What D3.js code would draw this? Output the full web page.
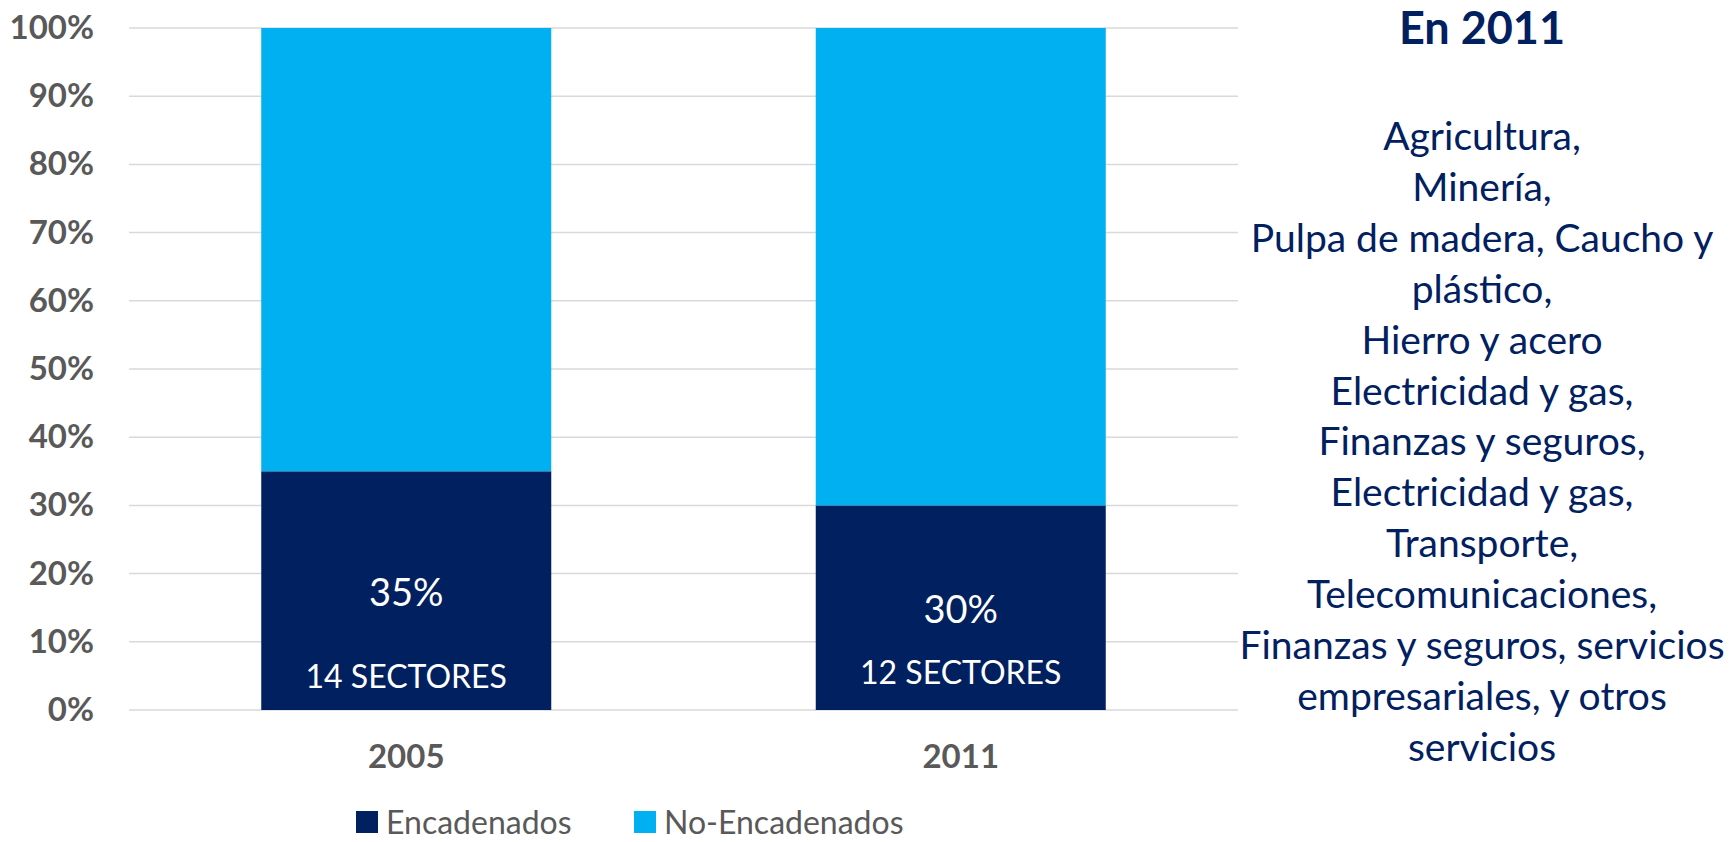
<!DOCTYPE html>
<html>
<head>
<meta charset="utf-8">
<script src="https://cdn.jsdelivr.net/npm/d3@7"></script>
<style>
  body { margin: 0; background: #fff; }
  svg { display: block; font-family: Lato, "Open Sans", sans-serif; }
</style>
</head>
<body>
<div id="chart"></div>
<script>
// Data
const categories = ["2005", "2011"];
const encadenados = [35, 30];
const noEncadenados = [65, 70];
const sectorLabels = ["14 SECTORES", "12 SECTORES"];
const yTicks = [0, 10, 20, 30, 40, 50, 60, 70, 80, 90, 100];
const seriesNames = ["Encadenados", "No-Encadenados"];
const noteTitle = "En 2011";
const noteLines = [
    "Agricultura,",
    "Minería,",
    "Pulpa de madera, Caucho y",
    "plástico,",
    "Hierro y acero",
    "Electricidad y gas,",
    "Finanzas y seguros,",
    "Electricidad y gas,",
    "Transporte,",
    "Telecomunicaciones,",
    "Finanzas y seguros, servicios",
    "empresariales, y otros",
    "servicios"
];

// Chart setup
const W = 1731, H = 842;
const margin = { top: 28, right: 493, bottom: 132, left: 129 },
    width = W - margin.left - margin.right,
    height = H - margin.top - margin.bottom;

const colors = ["#002060", "#00B0F0"];
const axisGray = "#595959";

const svg = d3.select("#chart")
    .append("svg")
    .attr("width", W)
    .attr("height", H);

const g = svg.append("g")
    .attr("transform", `translate(${margin.left},${margin.top})`);

const x = d3.scaleBand()
    .domain(categories)
    .range([0, width])
    .paddingInner(0.477)
    .paddingOuter(0.2385);

const y = d3.scaleLinear()
    .domain([0, 100])
    .range([height, 0]);

// Gridlines
g.selectAll(".grid")
    .data(yTicks)
    .enter()
    .append("line")
    .attr("x1", 0)
    .attr("x2", width)
    .attr("y1", d => y(d))
    .attr("y2", d => y(d))
    .attr("stroke", "#d9d9d9")
    .attr("stroke-width", 1.5);

// Y axis
const yAxis = g.append("g")
    .call(d3.axisLeft(y).tickValues(yTicks).tickFormat(d => d + "%").tickSize(0).tickPadding(35));
yAxis.select(".domain").remove();
yAxis.selectAll("text")
    .attr("fill", axisGray)
    .style("font-size", "33px")
    .style("font-weight", "bold")
    .style("font-family", "Lato, sans-serif");

// X axis
const xAxis = g.append("g")
    .attr("transform", `translate(0,${height})`)
    .call(d3.axisBottom(x).tickSize(0).tickPadding(35));
xAxis.select(".domain").remove();
xAxis.selectAll("text")
    .attr("fill", axisGray)
    .style("font-size", "33px")
    .style("font-weight", "bold")
    .style("font-family", "Lato, sans-serif");

// Stacked bars
const rows = categories.map((c, i) => ({ cat: c, Encadenados: encadenados[i], "No-Encadenados": noEncadenados[i] }));
const stacked = d3.stack().keys(seriesNames)(rows);

g.selectAll(".series")
    .data(stacked)
    .enter()
    .append("g")
    .attr("fill", (d, i) => colors[i])
    .selectAll("rect")
    .data(d => d)
    .enter()
    .append("rect")
    .attr("x", d => x(d.data.cat))
    .attr("y", d => y(d[1]))
    .attr("width", x.bandwidth())
    .attr("height", d => y(d[0]) - y(d[1]));

// Labels inside dark segments
g.selectAll(".pct")
    .data(categories)
    .enter()
    .append("text")
    .attr("x", d => x(d) + x.bandwidth() / 2)
    .attr("y", (d, i) => y(encadenados[i] / 2))
    .attr("text-anchor", "middle")
    .attr("dominant-baseline", "central")
    .attr("fill", "#fff")
    .style("font-size", "38px")
    .text((d, i) => encadenados[i] + "%");

g.selectAll(".sect")
    .data(categories)
    .enter()
    .append("text")
    .attr("x", d => x(d) + x.bandwidth() / 2)
    .attr("y", (d, i) => y(5) - (i === 0 ? 0 : 4))
    .attr("text-anchor", "middle")
    .attr("dominant-baseline", "central")
    .attr("fill", "#fff")
    .style("font-size", "32px")
    .text((d, i) => sectorLabels[i]);

// Legend
const legend = svg.append("g").attr("transform", "translate(356,819)");
const legendX = [0, 278];
seriesNames.forEach((name, i) => {
    legend.append("rect")
        .attr("x", legendX[i])
        .attr("y", -8)
        .attr("width", 22)
        .attr("height", 22)
        .attr("fill", colors[i]);
    legend.append("text")
        .attr("x", legendX[i] + 30)
        .attr("y", 2)
        .attr("dominant-baseline", "central")
        .attr("fill", axisGray)
        .style("font-size", "32px")
        .text(name);
});

// Side note
const noteX = 1482;
svg.append("text")
    .attr("x", noteX)
    .attr("y", 44)
    .attr("text-anchor", "middle")
    .attr("fill", "#002060")
    .style("font-size", "45px")
    .style("font-weight", "bold")
    .text(noteTitle);

svg.append("g")
    .selectAll("text")
    .data(noteLines)
    .enter()
    .append("text")
    .attr("x", noteX)
    .attr("y", (d, i) => 135 + i * 50.9)
    .attr("text-anchor", "middle")
    .attr("dominant-baseline", "central")
    .attr("fill", "#002060")
    .style("font-size", "39px")
    .text(d => d);
</script>
</body>
</html>
